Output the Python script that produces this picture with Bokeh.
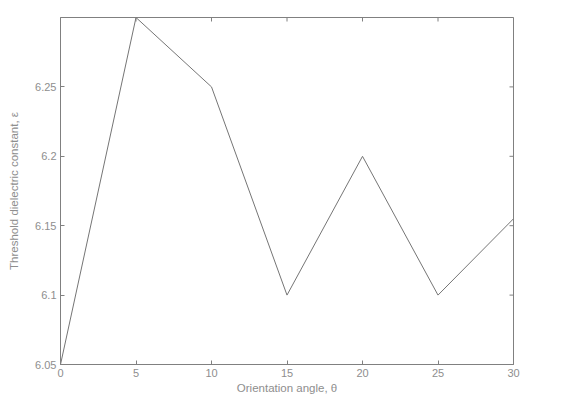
from bokeh.plotting import figure
from bokeh.models import LinearAxis, FixedTicker, Range1d
from bokeh.embed import file_html
from bokeh.resources import INLINE
import math

angles = [0, 5, 10, 15, 20, 25, 30]
threshold = [6.05, 6.30, 6.25, 6.10, 6.20, 6.10, 6.155]
x_ticks = [0, 5, 10, 15, 20, 25, 30]
y_ticks = [6.05, 6.1, 6.15, 6.2, 6.25]
y_tick_labels = {6.05: "6.05", 6.1: "6.1", 6.15: "6.15", 6.2: "6.2", 6.25: "6.25"}
x_min, x_max = 0, 30
y_min, y_max = 6.05, 6.30

FONT = "Liberation Sans"
TXT = "#8e8e8e"
AX = "#808080"

p = figure(frame_width=453, frame_height=347, output_backend="svg", toolbar_location=None,
           x_range=Range1d(x_min, x_max), y_range=Range1d(y_min, y_max),
           x_axis_location=None, y_axis_location=None,
           min_border_left=60, min_border_right=45, min_border_top=17, min_border_bottom=20)
p.grid.visible = False
p.outline_line_color = AX
p.background_fill_color = "white"
p.border_fill_color = "white"

def style(ax, ticks):
    ax.ticker = FixedTicker(ticks=ticks)
    ax.axis_line_color = AX
    ax.major_tick_line_color = AX
    ax.major_tick_in = 4
    ax.major_tick_out = 0
    ax.minor_tick_line_color = None
    ax.major_label_text_font = FONT
    ax.major_label_text_font_size = "11px"
    ax.major_label_text_color = TXT
    ax.major_label_standoff = 4
    ax.axis_label_text_font = FONT
    ax.axis_label_text_font_size = "11.5px"
    ax.axis_label_text_font_style = "normal"
    ax.axis_label_text_color = TXT

xb = LinearAxis(axis_label="Orientation angle, θ")
style(xb, x_ticks)
xb.axis_label_standoff = 2
p.add_layout(xb, "below")
yl = LinearAxis(axis_label="Threshold dielectric constant, ε")
style(yl, y_ticks)
yl.major_label_overrides = y_tick_labels
yl.axis_label_standoff = 12
p.add_layout(yl, "left")

# inward ticks on the top and right edges of the box
p.scatter(x_ticks, [y_max] * len(x_ticks), marker="dash", angle=math.pi / 2,
          size=8, line_color=AX, line_width=1)
p.scatter([x_max] * len(y_ticks), y_ticks, marker="dash",
          size=8, line_color=AX, line_width=1)

p.line(angles, threshold, line_color="#757575", line_width=1)

open("out.html", "w").write(file_html(p, INLINE))
